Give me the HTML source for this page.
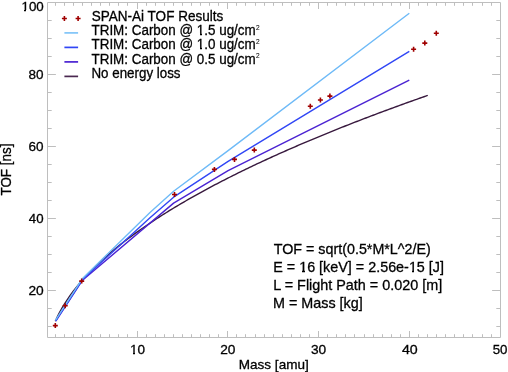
<!DOCTYPE html>
<html><head><meta charset="utf-8"><title>TOF vs Mass</title><style>
html,body{margin:0;padding:0;background:#fff;width:508px;height:372px;overflow:hidden}
svg{display:block;will-change:transform;font-family:"Liberation Sans",sans-serif}
</style></head><body><svg width="508" height="372" viewBox="0 0 508 372"><path d="M47.5 2.5H500.5V337.5H47.5Z" fill="none" stroke="#bebebe" stroke-width="1"/><path d="M55.50 337.5v-3.3M55.50 2.5v3.3M64.50 337.5v-3.3M64.50 2.5v3.3M73.50 337.5v-3.3M73.50 2.5v3.3M82.50 337.5v-3.3M82.50 2.5v3.3M91.50 337.5v-3.3M91.50 2.5v3.3M100.50 337.5v-3.3M100.50 2.5v3.3M109.50 337.5v-3.3M109.50 2.5v3.3M118.50 337.5v-3.3M118.50 2.5v3.3M127.50 337.5v-3.3M127.50 2.5v3.3M137.50 337.5v-6.5M137.50 2.5v6.5M146.50 337.5v-3.3M146.50 2.5v3.3M155.50 337.5v-3.3M155.50 2.5v3.3M164.50 337.5v-3.3M164.50 2.5v3.3M173.50 337.5v-3.3M173.50 2.5v3.3M182.50 337.5v-3.3M182.50 2.5v3.3M191.50 337.5v-3.3M191.50 2.5v3.3M200.50 337.5v-3.3M200.50 2.5v3.3M209.50 337.5v-3.3M209.50 2.5v3.3M218.50 337.5v-3.3M218.50 2.5v3.3M227.50 337.5v-6.5M227.50 2.5v6.5M236.50 337.5v-3.3M236.50 2.5v3.3M245.50 337.5v-3.3M245.50 2.5v3.3M255.50 337.5v-3.3M255.50 2.5v3.3M264.50 337.5v-3.3M264.50 2.5v3.3M273.50 337.5v-3.3M273.50 2.5v3.3M282.50 337.5v-3.3M282.50 2.5v3.3M291.50 337.5v-3.3M291.50 2.5v3.3M300.50 337.5v-3.3M300.50 2.5v3.3M309.50 337.5v-3.3M309.50 2.5v3.3M318.50 337.5v-6.5M318.50 2.5v6.5M327.50 337.5v-3.3M327.50 2.5v3.3M336.50 337.5v-3.3M336.50 2.5v3.3M345.50 337.5v-3.3M345.50 2.5v3.3M354.50 337.5v-3.3M354.50 2.5v3.3M364.50 337.5v-3.3M364.50 2.5v3.3M373.50 337.5v-3.3M373.50 2.5v3.3M382.50 337.5v-3.3M382.50 2.5v3.3M391.50 337.5v-3.3M391.50 2.5v3.3M400.50 337.5v-3.3M400.50 2.5v3.3M409.50 337.5v-6.5M409.50 2.5v6.5M418.50 337.5v-3.3M418.50 2.5v3.3M427.50 337.5v-3.3M427.50 2.5v3.3M436.50 337.5v-3.3M436.50 2.5v3.3M445.50 337.5v-3.3M445.50 2.5v3.3M454.50 337.5v-3.3M454.50 2.5v3.3M463.50 337.5v-3.3M463.50 2.5v3.3M472.50 337.5v-3.3M472.50 2.5v3.3M482.50 337.5v-3.3M482.50 2.5v3.3M491.50 337.5v-3.3M491.50 2.5v3.3M47.5 326.50h4.2M500.5 326.50h-4.2M47.5 308.50h4.2M500.5 308.50h-4.2M47.5 290.50h8.4M500.5 290.50h-8.4M47.5 272.50h4.2M500.5 272.50h-4.2M47.5 254.50h4.2M500.5 254.50h-4.2M47.5 236.50h4.2M500.5 236.50h-4.2M47.5 218.50h8.4M500.5 218.50h-8.4M47.5 200.50h4.2M500.5 200.50h-4.2M47.5 182.50h4.2M500.5 182.50h-4.2M47.5 164.50h4.2M500.5 164.50h-4.2M47.5 146.50h8.4M500.5 146.50h-8.4M47.5 128.50h4.2M500.5 128.50h-4.2M47.5 110.50h4.2M500.5 110.50h-4.2M47.5 92.50h4.2M500.5 92.50h-4.2M47.5 74.50h8.4M500.5 74.50h-8.4M47.5 56.50h4.2M500.5 56.50h-4.2M47.5 38.50h4.2M500.5 38.50h-4.2M47.5 20.50h4.2M500.5 20.50h-4.2" fill="none" stroke="#bebebe" stroke-width="1"/><polyline points="55.28,321.17 57.10,317.24 58.91,313.62 60.73,310.26 62.54,307.10 64.36,304.11 66.18,301.26 67.99,298.55 69.81,295.94 71.62,293.44 73.44,291.02 75.26,288.68 77.07,286.41 78.89,284.21 80.70,282.07 82.52,279.98 84.34,277.95 86.15,275.96 87.97,274.02 89.78,272.12 91.60,270.26 93.42,268.44 95.23,266.65 97.05,264.89 98.86,263.17 100.68,261.47 102.50,259.80 104.31,258.16 106.13,256.55 107.94,254.96 109.76,253.39 111.58,251.84 113.39,250.32 115.21,248.81 117.02,247.33 118.84,245.86 120.66,244.42 122.47,242.99 124.29,241.57 126.10,240.18 127.92,238.80 129.74,237.43 131.55,236.08 133.37,234.75 135.18,233.42 137.00,232.11 138.82,230.82 140.63,229.54 142.45,228.26 144.26,227.01 146.08,225.76 147.90,224.52 149.71,223.30 151.53,222.08 153.34,220.88 155.16,219.68 156.98,218.50 158.79,217.33 160.61,216.16 162.42,215.01 164.24,213.86 166.06,212.72 167.87,211.59 169.69,210.47 171.50,209.36 173.32,208.25 175.14,207.16 176.95,206.07 178.77,204.99 180.58,203.91 182.40,202.85 184.22,201.79 186.03,200.73 187.85,199.69 189.66,198.65 191.48,197.61 193.30,196.59 195.11,195.57 196.93,194.55 198.74,193.55 200.56,192.54 202.38,191.55 204.19,190.56 206.01,189.57 207.82,188.59 209.64,187.62 211.46,186.65 213.27,185.69 215.09,184.73 216.90,183.78 218.72,182.83 220.54,181.89 222.35,180.95 224.17,180.02 225.98,179.09 227.80,178.17 229.62,177.25 231.43,176.34 233.25,175.43 235.06,174.52 236.88,173.62 238.70,172.72 240.51,171.83 242.33,170.94 244.14,170.06 245.96,169.18 247.78,168.30 249.59,167.43 251.41,166.56 253.22,165.70 255.04,164.84 256.86,163.98 258.67,163.13 260.49,162.28 262.30,161.43 264.12,160.59 265.94,159.75 267.75,158.92 269.57,158.08 271.38,157.26 273.20,156.43 275.02,155.61 276.83,154.79 278.65,153.97 280.46,153.16 282.28,152.35 284.10,151.55 285.91,150.74 287.73,149.94 289.54,149.15 291.36,148.35 293.18,147.56 294.99,146.77 296.81,145.99 298.62,145.20 300.44,144.42 302.26,143.65 304.07,142.87 305.89,142.10 307.70,141.33 309.52,140.57 311.34,139.80 313.15,139.04 314.97,138.28 316.78,137.53 318.60,136.78 320.42,136.03 322.23,135.28 324.05,134.53 325.86,133.79 327.68,133.05 329.50,132.31 331.31,131.57 333.13,130.84 334.94,130.11 336.76,129.38 338.58,128.65 340.39,127.93 342.21,127.20 344.02,126.48 345.84,125.77 347.66,125.05 349.47,124.34 351.29,123.62 353.10,122.92 354.92,122.21 356.74,121.50 358.55,120.80 360.37,120.10 362.18,119.40 364.00,118.70 365.82,118.01 367.63,117.31 369.45,116.62 371.26,115.93 373.08,115.25 374.90,114.56 376.71,113.88 378.53,113.20 380.34,112.52 382.16,111.84 383.98,111.16 385.79,110.49 387.61,109.81 389.42,109.14 391.24,108.47 393.06,107.81 394.87,107.14 396.69,106.48 398.50,105.82 400.32,105.16 402.14,104.50 403.95,103.84 405.77,103.19 407.58,102.53 409.40,101.88 411.22,101.23 413.03,100.58 414.85,99.93 416.66,99.29 418.48,98.64 420.30,98.00 422.11,97.36 423.93,96.72 425.74,96.08 427.56,95.45 427.80,95.36" fill="none" stroke="#38193e" stroke-width="1.4" stroke-linejoin="round"/><polyline points="55.80,321.00 82.50,280.20 173.60,203.10 228.10,170.70 409.30,80.10" fill="none" stroke="#4a22d2" stroke-width="1.4" stroke-linejoin="round"/><polyline points="55.60,320.80 82.50,279.60 150.00,217.80 173.60,197.20 228.10,161.30 409.30,51.40" fill="none" stroke="#3046f5" stroke-width="1.4" stroke-linejoin="round"/><polyline points="55.40,320.40 82.50,278.40 150.00,212.60 173.60,191.20 228.10,150.60 409.30,13.30" fill="none" stroke="#6ebaf7" stroke-width="1.4" stroke-linejoin="round"/><path d="M52.80 325.60h5M55.30 323.10v5M62.70 305.70h5M65.20 303.20v5M79.20 281.10h5M81.70 278.60v5M172.00 194.50h5M174.50 192.00v5M211.90 169.40h5M214.40 166.90v5M232.00 159.40h5M234.50 156.90v5M251.80 150.10h5M254.30 147.60v5M307.80 106.20h5M310.30 103.70v5M317.90 100.00h5M320.40 97.50v5M327.40 96.10h5M329.90 93.60v5M411.10 49.20h5M413.60 46.70v5M422.30 43.10h5M424.80 40.60v5M433.80 33.30h5M436.30 30.80v5M61.90 18.50h5M64.40 16.00v5M75.60 18.50h5M78.10 16.00v5" fill="none" stroke="#a00000" stroke-width="1.6"/><path d="M64.4 32.90H78.1" stroke="#80c4f8" stroke-width="1.7"/><path d="M64.4 47.40H78.1" stroke="#3046f5" stroke-width="1.7"/><path d="M64.4 61.90H78.1" stroke="#4a22d2" stroke-width="1.7"/><path d="M64.4 76.40H78.1" stroke="#4a2850" stroke-width="1.7"/><g font-family="Liberation Sans, sans-serif" fill="#000" stroke="#000" stroke-width="0.3"><text id="l1" x="91.75" y="20.50" font-size="14.0" textLength="131.50" lengthAdjust="spacingAndGlyphs">SPAN-Ai TOF Results</text><text id="l2" x="91.50" y="35.37" font-size="14.0" textLength="164.25" lengthAdjust="spacingAndGlyphs">TRIM: Carbon @ 1.5 ug/cm</text><text id="l3" x="91.50" y="49.40" font-size="14.0" textLength="164.25" lengthAdjust="spacingAndGlyphs">TRIM: Carbon @ 1.0 ug/cm</text><text id="l4" x="91.50" y="63.70" font-size="14.0" textLength="164.25" lengthAdjust="spacingAndGlyphs">TRIM: Carbon @ 0.5 ug/cm</text><text id="l5" x="91.49" y="78.05" font-size="14.0" textLength="89.01" lengthAdjust="spacingAndGlyphs">No energy loss</text><text id="e1" x="273.75" y="254.00" font-size="14.8" textLength="157.00" lengthAdjust="spacingAndGlyphs">TOF = sqrt(0.5*M*L^2/E)</text><text id="e2" x="273.24" y="271.65" font-size="14.8" textLength="170.76" lengthAdjust="spacingAndGlyphs">E = 16 [keV] = 2.56e-15 [J]</text><text id="e3" x="273.24" y="289.75" font-size="14.8" textLength="169.01" lengthAdjust="spacingAndGlyphs">L = Flight Path = 0.020 [m]</text><text id="e4" x="272.99" y="307.85" font-size="14.8" textLength="89.77" lengthAdjust="spacingAndGlyphs">M = Mass [kg]</text><text id="y20" x="28.47" y="295.00" font-size="13.3" textLength="15.31" lengthAdjust="spacingAndGlyphs">20</text><text id="y40" x="28.76" y="222.70" font-size="13.3" textLength="14.76" lengthAdjust="spacingAndGlyphs">40</text><text id="y60" x="28.50" y="150.70" font-size="13.3" textLength="15.02" lengthAdjust="spacingAndGlyphs">60</text><text id="y80" x="28.50" y="79.20" font-size="13.3" textLength="15.02" lengthAdjust="spacingAndGlyphs">80</text><text id="y100" x="21.48" y="10.70" font-size="13.3" textLength="22.28" lengthAdjust="spacingAndGlyphs">100</text><text id="x10" x="129.97" y="353.80" font-size="13.3" textLength="15.07" lengthAdjust="spacingAndGlyphs">10</text><text id="x20" x="220.24" y="353.80" font-size="13.3" textLength="15.26" lengthAdjust="spacingAndGlyphs">20</text><text id="x30" x="310.98" y="353.80" font-size="13.3" textLength="15.27" lengthAdjust="spacingAndGlyphs">30</text><text id="x40" x="401.98" y="353.80" font-size="13.3" textLength="15.78" lengthAdjust="spacingAndGlyphs">40</text><text id="x50" x="492.74" y="353.80" font-size="13.3" textLength="14.78" lengthAdjust="spacingAndGlyphs">50</text><text id="xt" x="238.74" y="368.90" font-size="13.3" textLength="70.02" lengthAdjust="spacingAndGlyphs">Mass [amu]</text><text x="256.1" y="29.77" font-size="6.6" stroke-width="0.05">2</text><text x="256.1" y="43.80" font-size="6.6" stroke-width="0.05">2</text><text x="256.1" y="58.10" font-size="6.6" stroke-width="0.05">2</text><text id="yt" font-size="14.0" textLength="51.90" lengthAdjust="spacingAndGlyphs" transform="translate(10.95 195.50) rotate(-90)" x="0" y="0">TOF [ns]</text></g><rect x="130" y="353" width="3" height="2" fill="#fff"/><rect x="135" y="353" width="2" height="2" fill="#fff"/><rect x="22" y="10" width="2" height="2" fill="#fff"/><rect x="26" y="10" width="3" height="2" fill="#fff"/><rect x="197" y="33" width="3" height="3" fill="#fff"/><rect x="202" y="33" width="2" height="3" fill="#fff"/><rect x="197" y="47" width="3" height="3" fill="#fff"/><rect x="202" y="47" width="2" height="3" fill="#fff"/><rect x="300" y="270" width="2" height="3" fill="#fff"/><rect x="305" y="270" width="2" height="3" fill="#fff"/><rect x="409" y="270" width="3" height="3" fill="#fff"/><rect x="414" y="270" width="3" height="3" fill="#fff"/></svg></body></html>
